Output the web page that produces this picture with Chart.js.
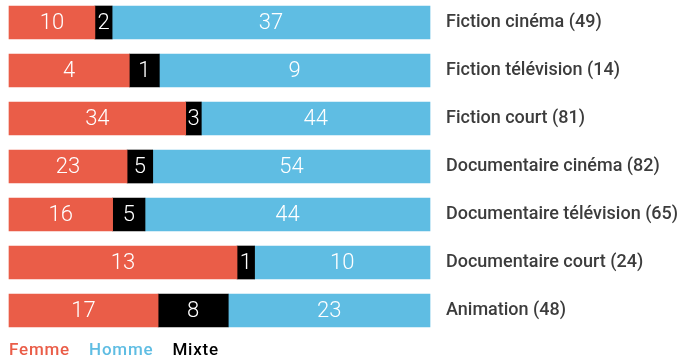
<!DOCTYPE html>
<html>
<head>
<meta charset="utf-8">
<script src="https://cdn.jsdelivr.net/npm/chart.js@4.4.1/dist/chart.umd.min.js"></script>
<style>
  html, body { margin: 0; padding: 0; background: #fff; }
  #wrap { width: 684px; height: 364px; position: relative; }
</style>
</head>
<body>
<div id="wrap"><canvas id="c" width="684" height="364"></canvas></div>
<script>
// Films by gender of director, per category
const categories = [
  'Fiction cinéma', 'Fiction télévision', 'Fiction court',
  'Documentaire cinéma', 'Documentaire télévision', 'Documentaire court', 'Animation'
];
const femme = [10, 4, 34, 23, 16, 13, 17];
const mixte = [2, 1, 3, 5, 5, 1, 8];
const homme = [37, 9, 44, 54, 44, 10, 23];
const seriesNames = ['Femme', 'Mixte', 'Homme'];
const seriesColors = ['#EA5D48', '#000000', '#5FBDE3'];

const totals = categories.map((_, i) => femme[i] + mixte[i] + homme[i]);
const rowLabels = categories.map((c, i) => c + ' (' + totals[i] + ')');
const counts = [femme, mixte, homme];
const pct = counts.map(arr => arr.map((v, i) => v / totals[i] * 100));

// Count written in the middle of each segment
const segmentLabels = {
  id: 'segmentLabels',
  afterDatasetsDraw(chart) {
    const ctx = chart.ctx;
    ctx.save();
    ctx.font = '300 22px Roboto, sans-serif';
    ctx.fillStyle = '#ffffff';
    ctx.textAlign = 'center';
    ctx.textBaseline = 'middle';
    chart.data.datasets.forEach((ds, di) => {
      chart.getDatasetMeta(di).data.forEach((bar, i) => {
        const x = (bar.x + bar.base) / 2;
        ctx.fillText(String(counts[di][i]), x, bar.y + 1);
      });
    });
    ctx.restore();
  }
};

// Coloured legend words under the bars
const textLegend = {
  id: 'textLegend',
  afterDraw(chart) {
    const ctx = chart.ctx;
    ctx.save();
    ctx.font = '500 17px Roboto, sans-serif';
    ctx.letterSpacing = '0.8px';
    ctx.textBaseline = 'middle';
    ctx.textAlign = 'left';
    const order = [0, 2, 1];
    let x = 9;
    order.forEach(k => {
      ctx.fillStyle = seriesColors[k];
      ctx.fillText(seriesNames[k], x, 351);
      x += ctx.measureText(seriesNames[k]).width + 19;
    });
    ctx.restore();
  }
};

new Chart(document.getElementById('c'), {
  type: 'bar',
  data: {
    labels: rowLabels,
    datasets: seriesNames.map((n, k) => ({
      label: n,
      data: pct[k],
      backgroundColor: seriesColors[k],
      borderWidth: 0,
      barThickness: 33,
      clip: false
    }))
  },
  options: {
    indexAxis: 'y',
    responsive: false,
    animation: false,
    layout: { padding: { left: 9, right: 0, top: 22.5, bottom: 53.5 } },
    plugins: { legend: { display: false }, tooltip: { enabled: false } },
    scales: {
      x: { stacked: true, min: 0, max: 100, display: false },
      y: {
        stacked: true,
        position: 'right',
        offset: false,
        grid: { display: false, drawTicks: false },
        border: { display: false },
        ticks: {
          padding: 16,
          color: '#3c3c3c',
          font: { family: 'Roboto, sans-serif', size: 18, weight: '500' }
        },
        afterFit(scale) {
          scale.width = 254;
          scale.paddingTop = 0;
          scale.paddingBottom = 0;
        }
      }
    }
  },
  plugins: [segmentLabels, textLegend]
});
</script>
</body>
</html>
